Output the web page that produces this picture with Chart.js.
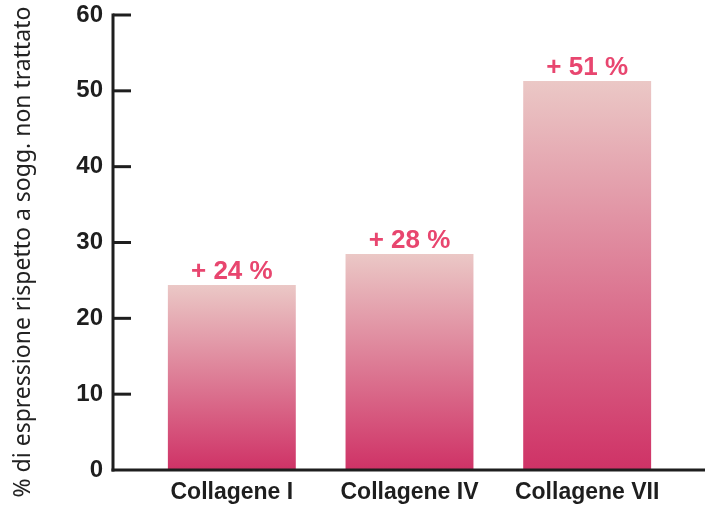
<!DOCTYPE html>
<html><head><meta charset="utf-8">
<script src="https://cdn.jsdelivr.net/npm/chart.js@4"></script>
<style>html,body{margin:0;padding:0;background:#fff}#wrap{width:705px;height:509px}</style>
</head><body><div id="wrap"><canvas id="c"></canvas></div>
<script>
const categories = ["Collagene I", "Collagene IV", "Collagene VII"];
const values = [24.4, 28.5, 51.3];
const annotations = ["+ 24 %", "+ 28 %", "+ 51 %"];
const yTicks = [0, 10, 20, 30, 40, 50, 60];
const yTitle = "% di espressione rispetto a sogg. non trattato";

const AXIS_X = 113, AXIS_RIGHT = 705, DARK = '#1e1e1e';
const BOLD = '"Liberation Sans", Arial, sans-serif';

function barGradient(ctx) {
  const chart = ctx.chart;
  if (!chart.chartArea || ctx.type !== 'data') return '#d8728f';
  const y = chart.scales.y;
  const top = y.getPixelForValue(ctx.raw);
  const bot = y.getPixelForValue(0);
  const g = chart.ctx.createLinearGradient(0, top, 0, bot);
  g.addColorStop(0, '#ebc8c6');
  g.addColorStop(1, '#cf3266');
  return g;
}

const axesPlugin = {
  id: 'axesPlugin',
  afterDatasetsDraw(chart) {
    const c = chart.ctx, y = chart.scales.y;
    const y0 = y.getPixelForValue(0), yTop = y.getPixelForValue(60);
    c.save();
    c.strokeStyle = DARK; c.lineWidth = 3; c.lineCap = 'butt';
    c.beginPath(); c.moveTo(AXIS_X, yTop - 1.5); c.lineTo(AXIS_X, y0 + 1.5); c.stroke();
    c.beginPath(); c.moveTo(AXIS_X - 1.5, y0); c.lineTo(AXIS_RIGHT, y0); c.stroke();
    y.ticks.forEach(t => {
      if (t.value === 0) return;
      const py = y.getPixelForValue(t.value);
      c.beginPath(); c.moveTo(AXIS_X, py); c.lineTo(AXIS_X + 18, py); c.stroke();
    });
    // annotations
    const meta = chart.getDatasetMeta(0);
    c.fillStyle = '#e8466f';
    c.font = 'bold 26px ' + BOLD;
    c.textAlign = 'center'; c.textBaseline = 'alphabetic';
    meta.data.forEach((bar, i) => {
      c.fillText(annotations[i], bar.x, bar.y - 6);
    });
    // y title
    c.fillStyle = '#222';
    c.font = '23px "Noto Sans", sans-serif';
    c.translate(23, 252);
    c.rotate(-Math.PI / 2);
    c.textAlign = 'center'; c.textBaseline = 'middle';
    c.fillText(yTitle, 0, 0);
    c.restore();
  }
};

new Chart(document.getElementById('c'), {
  type: 'bar',
  data: { labels: categories, datasets: [{ data: values, backgroundColor: barGradient, borderWidth: 0, barPercentage: 0.72, categoryPercentage: 1 }] },
  options: {
    responsive: true, maintainAspectRatio: false, animation: false,
    layout: { padding: { top: 15, right: 29, left: 0, bottom: 0 } },
    plugins: { legend: { display: false }, tooltip: { enabled: false } },
    scales: {
      x: {
        grid: { display: false, drawTicks: false },
        border: { display: false },
        ticks: { color: DARK, padding: 9, font: { family: BOLD, size: 23, weight: 'bold' } },
        afterFit(s) { s.height = 39; }
      },
      y: {
        min: 0, max: 60,
        afterBuildTicks(s) { s.ticks = yTicks.map(v => ({ value: v })); },
        grid: { display: false, drawTicks: false },
        border: { display: false },
        ticks: { color: DARK, padding: 40, font: { family: BOLD, size: 24, weight: 'bold' } },
        afterFit(s) { s.width = 143; s.paddingTop = 0; s.paddingBottom = 0; }
      }
    }
  },
  plugins: [axesPlugin]
});
</script></body></html>
